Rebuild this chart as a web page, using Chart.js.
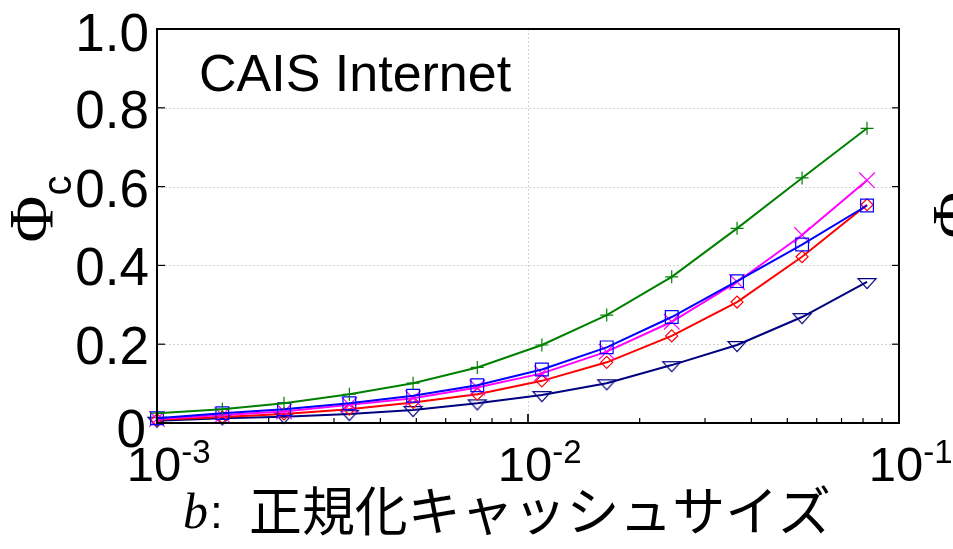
<!DOCTYPE html>
<html>
<head>
<meta charset="utf-8">
<script src="https://cdn.jsdelivr.net/npm/chart.js@4/dist/chart.umd.min.js"></script>
<style>
  html, body { margin: 0; padding: 0; background: #fff; }
  #wrap { width: 953px; height: 549px; position: relative; }
</style>
</head>
<body>
<div id="wrap"><canvas id="c" width="953" height="549"></canvas></div>
<script>
// Normalized cache size b (log axis)
const cacheSizes = [0.001, 0.0015, 0.0022, 0.0033, 0.0049, 0.0073, 0.0109, 0.0163, 0.0244, 0.0366, 0.0548, 0.082];

// Φc for each curve
const phiPlus     = [0.025, 0.035, 0.050, 0.073, 0.101, 0.141, 0.198, 0.274, 0.371, 0.494, 0.622, 0.748];
const phiSquare   = [0.012, 0.025, 0.035, 0.050, 0.069, 0.096, 0.136, 0.192, 0.269, 0.360, 0.453, 0.552];
const phiCross    = [0.010, 0.020, 0.029, 0.046, 0.063, 0.090, 0.126, 0.181, 0.257, 0.358, 0.477, 0.616];
const phiDiamond  = [0.008, 0.015, 0.023, 0.035, 0.052, 0.073, 0.107, 0.154, 0.221, 0.307, 0.422, 0.554];
const phiTriangle = [0.006, 0.012, 0.016, 0.023, 0.033, 0.050, 0.071, 0.101, 0.147, 0.198, 0.269, 0.358];

// Axis ticks
const yTicks = [0, 0.2, 0.4, 0.6, 0.8, 1.0];
const yTickLabels = ['0', '0.2', '0.4', '0.6', '0.8', '1.0'];
const xMajorTicks = [0.001, 0.01, 0.1];
const xTickExponents = ['-3', '-2', '-1'];

const panelLabel = 'CAIS Internet';
const xTitleVar = 'b';
const xTitleText = '正規化キャッシュサイズ';

const SANS = '"Liberation Sans", Arial, sans-serif';
const SERIF = '"Liberation Serif", "Times New Roman", serif';
const CJK = '"Noto Sans CJK JP", "Noto Sans CJK SC", sans-serif';

function pts(ys) { return cacheSizes.map((x, i) => ({ x, y: ys[i] })); }

// hollow downward triangle marker, centroid at canvas centre
function downTriangle(color) {
  const c = document.createElement('canvas');
  c.width = 22; c.height = 22;
  const g = c.getContext('2d');
  g.strokeStyle = color; g.lineWidth = 1.2;
  g.beginPath();
  g.moveTo(2, 7.7); g.lineTo(20, 7.7); g.lineTo(11, 17.7); g.closePath();
  g.stroke();
  return c;
}

function series(label, data, color, style, radius) {
  return {
    label, data: pts(data),
    borderColor: color, borderWidth: 2,
    pointStyle: style, pointRadius: radius, pointHoverRadius: radius,
    pointBorderColor: color, pointBackgroundColor: 'rgba(0,0,0,0)', pointBorderWidth: 1.2,
    tension: 0, clip: false, fill: false
  };
}

const frameAndText = {
  id: 'frameAndText',
  beforeDatasetsDraw(chart) {
    const { ctx, chartArea: a, scales: { x, y } } = chart;
    ctx.save();
    ctx.strokeStyle = '#d4d4d4';
    ctx.lineWidth = 1;
    ctx.setLineDash([2, 2]);
    yTicks.filter(v => v > 0 && v < 1).forEach(v => {
      const py = Math.round(y.getPixelForValue(v)) + 0.5;
      ctx.beginPath(); ctx.moveTo(a.left, py); ctx.lineTo(a.right, py); ctx.stroke();
    });
    xMajorTicks.slice(1, -1).forEach(v => {
      const px = Math.round(x.getPixelForValue(v)) + 0.5;
      ctx.beginPath(); ctx.moveTo(px, a.top); ctx.lineTo(px, a.bottom); ctx.stroke();
    });
    ctx.restore();
  },
  afterDatasetsDraw(chart) {
    const { ctx, chartArea: a, scales: { x, y } } = chart;
    ctx.save();
    // frame
    ctx.strokeStyle = '#000';
    ctx.lineWidth = 2;
    ctx.strokeRect(a.left, a.top, a.right - a.left, a.bottom - a.top);
    // bottom ticks (major + minor), pointing inward
    ctx.lineWidth = 1.2;
    for (let e = -3; e <= -2; e++) {
      for (let k = 1; k <= 10; k++) {
        const v = k * Math.pow(10, e);
        const px = x.getPixelForValue(v);
        if (px <= a.left + 1 || px >= a.right - 1) continue;
        const len = (k === 1 || k === 10) ? 9 : 5;
        ctx.beginPath(); ctx.moveTo(px, a.bottom); ctx.lineTo(px, a.bottom - len); ctx.stroke();
      }
    }
    // left / right ticks
    yTicks.filter(v => v > 0 && v < 1).forEach(v => {
      const py = y.getPixelForValue(v);
      ctx.beginPath(); ctx.moveTo(a.left, py); ctx.lineTo(a.left + 8, py); ctx.stroke();
      ctx.beginPath(); ctx.moveTo(a.right, py); ctx.lineTo(a.right - 7, py); ctx.stroke();
    });

    ctx.fillStyle = '#000';
    ctx.textBaseline = 'alphabetic';
    // y tick labels
    ctx.font = '53px ' + SANS;
    ctx.textAlign = 'right';
    yTicks.forEach((v, i) => {
      const py = y.getPixelForValue(v);
      const off = v === 0 ? 24 : (v === 1 ? 22 : 20);
      ctx.fillText(yTickLabels[i], v === 0 ? 146 : 149, py + off);
    });

    // x tick labels: 10 with superscript exponent
    xMajorTicks.forEach((v, i) => {
      const px = x.getPixelForValue(v) - 3;
      ctx.font = '49px ' + SANS;
      ctx.textAlign = 'center';
      ctx.fillText('10', px, 481);
      const w = ctx.measureText('10').width;
      ctx.font = '33px ' + SANS;
      ctx.textAlign = 'left';
      ctx.fillText(xTickExponents[i], px + w / 2, 463);
    });

    // panel label
    ctx.font = '52px ' + SANS;
    ctx.textAlign = 'left';
    ctx.fillText(panelLabel, 199, 91);

    // x axis title
    ctx.font = 'italic 50px ' + SERIF;
    ctx.fillText(xTitleVar, 183, 528);
    ctx.font = '46px ' + SANS;
    ctx.fillText(':', 210, 528);
    ctx.font = '53px ' + CJK;
    const tw = ctx.measureText(xTitleText).width;
    ctx.save();
    ctx.translate(249, 531);
    ctx.scale(582 / tw, 1);
    ctx.fillText(xTitleText, 0, 0);
    ctx.restore();

    // y axis title Φc (rotated); also the neighbouring panel's title at the edge
    const yTitle = (baseX, midY) => {
      ctx.save();
      ctx.translate(baseX, midY);
      ctx.rotate(-Math.PI / 2);
      ctx.textAlign = 'left';
      ctx.font = '64px ' + SERIF;
      const wPhi = ctx.measureText('Φ').width;
      ctx.font = '40px ' + SANS;
      const wc = ctx.measureText('c').width;
      const start = -(wPhi + wc) / 2;
      ctx.font = '64px ' + SERIF;
      ctx.fillText('Φ', start, 0);
      ctx.font = '40px ' + SANS;
      ctx.fillText('c', start + wPhi, 18);
      ctx.restore();
    };
    yTitle(53, 209);
    yTitle(976, 205);
    ctx.restore();
  }
};

new Chart(document.getElementById('c'), {
  type: 'line',
  data: {
    datasets: [
      series('plus', phiPlus, '#008000', 'cross', 6.5),
      series('square', phiSquare, '#0000ff', 'rect', 9),
      series('cross', phiCross, '#ff00ff', 'crossRot', 11),
      series('diamond', phiDiamond, '#ff0000', 'rectRot', 6),
      series('triangle', phiTriangle, '#000080', downTriangle('#000080'), 10)
    ]
  },
  options: {
    responsive: false,
    animation: false,
    events: [],
    layout: { padding: { top: 29, right: 54, left: 0, bottom: 0 } },
    plugins: { legend: { display: false }, tooltip: { enabled: false }, title: { display: false } },
    scales: {
      x: {
        type: 'logarithmic',
        min: 0.001, max: 0.1,
        grid: { display: false },
        border: { display: false },
        ticks: { display: false },
        afterFit(s) { s.height = 126; }
      },
      y: {
        type: 'linear',
        min: 0, max: 1,
        grid: { display: false, drawTicks: false },
        border: { display: false },
        ticks: { display: false },
        afterFit(s) { s.width = 157; }
      }
    }
  },
  plugins: [frameAndText]
});
</script>
</body>
</html>
